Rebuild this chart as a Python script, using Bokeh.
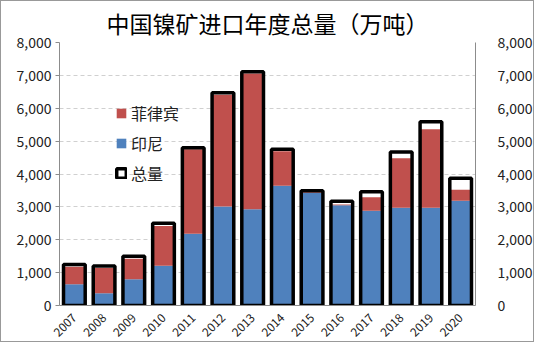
import math
from bokeh.plotting import figure
from bokeh.models import (ColumnDataSource, LinearAxis, FixedTicker, NumeralTickFormatter,
                          Legend, LegendItem, Range1d, FactorRange)
from bokeh.embed import file_html
from bokeh.resources import INLINE

years = ["2007", "2008", "2009", "2010", "2011", "2012", "2013",
         "2014", "2015", "2016", "2017", "2018", "2019", "2020"]
indonesia = [650, 370, 800, 1210, 2180, 3010, 2930, 3640, 3430, 3050, 2880, 2970, 2970, 3190]
philippines = [530, 770, 620, 1210, 2570, 3400, 4130, 1050, 20, 20, 410, 1510, 2390, 330]
total = [1250, 1200, 1500, 2500, 4800, 6470, 7110, 4750, 3490, 3170, 3460, 4670, 5590, 3870]
y_ticks = [0, 1000, 2000, 3000, 4000, 5000, 6000, 7000, 8000]

BLUE = "#4F81BD"
RED = "#C0504D"
FONT = "Noto Sans CJK SC"

src = ColumnDataSource(dict(year=years, indo=indonesia, phil=philippines, total=total))

p = figure(width=534, height=342, x_range=FactorRange(*years, range_padding=0),
           y_range=Range1d(0, 8000), output_backend="svg", toolbar_location=None,
           min_border_left=58, min_border_right=52, min_border_top=10, min_border_bottom=20)
p.title.text = "中国镍矿进口年度总量（万吨）"
p.title.align = "center"
p.title.text_font = FONT
p.title.text_font_size = "23px"
p.title.text_font_style = "normal"
p.title.text_color = "#000000"
p.title.standoff = 5

p.outline_line_color = None
p.xgrid.grid_line_color = None
p.ygrid.grid_line_color = "#d0d0d0"
p.ygrid.grid_line_dash = "4 3"
p.ygrid.ticker = FixedTicker(ticks=y_ticks)

W = 0.73
fill_r = p.vbar(x="year", top="total", bottom=0, width=W, source=src,
                fill_color="white", line_color=None)
phil_r = p.vbar_stack(["indo", "phil"], x="year", width=W, source=src,
                      color=[BLUE, RED], line_color=None)
out_r = p.vbar(x="year", top="total", bottom=0, width=W, source=src,
               fill_color="white", fill_alpha=0, line_color="black", line_width=3.5)

# axes
ax = p.yaxis[0]
ax.ticker = FixedTicker(ticks=y_ticks)
ax.formatter = NumeralTickFormatter(format="0,0")
ax.axis_line_color = "#8c8c8c"
ax.major_tick_line_color = "#8c8c8c"
ax.major_tick_out = 4
ax.major_tick_in = 0
ax.minor_tick_line_color = None
ax.major_label_text_font = FONT
ax.major_label_text_font_size = "14px"
ax.major_label_text_color = "#222222"
ax.major_label_standoff = 4

rax = LinearAxis(ticker=FixedTicker(ticks=y_ticks), formatter=NumeralTickFormatter(format="0,0"))
rax.axis_line_color = "#8c8c8c"
rax.major_tick_line_color = None
rax.minor_tick_line_color = None
rax.major_label_text_font = FONT
rax.major_label_text_font_size = "14px"
rax.major_label_text_color = "#222222"
rax.major_label_standoff = 16
p.add_layout(rax, "right")

xa = p.xaxis[0]
xa.axis_line_color = "#8c8c8c"
xa.major_tick_line_color = None
xa.minor_tick_line_color = None
xa.major_label_orientation = math.pi / 4
xa.major_label_text_font = FONT
xa.major_label_text_font_size = "12px"
xa.major_label_text_color = "#222222"
xa.major_label_standoff = 4

legend = Legend(items=[
    LegendItem(label="菲律宾", renderers=[phil_r[1]]),
    LegendItem(label="印尼", renderers=[phil_r[0]]),
    LegendItem(label="总量", renderers=[fill_r, out_r]),
], location=(56, 120))
legend.background_fill_alpha = 0
legend.border_line_color = None
legend.label_text_font = FONT
legend.label_text_font_size = "16px"
legend.label_text_color = "#222222"
legend.glyph_width = 12
legend.glyph_height = 12
legend.label_height = 20
legend.spacing = 6
legend.label_standoff = 4
legend.padding = 0
p.add_layout(legend)

p.styles = {"border": "1px solid #999999", "box-sizing": "border-box"}

open("out.html", "w").write(file_html(p, INLINE))
